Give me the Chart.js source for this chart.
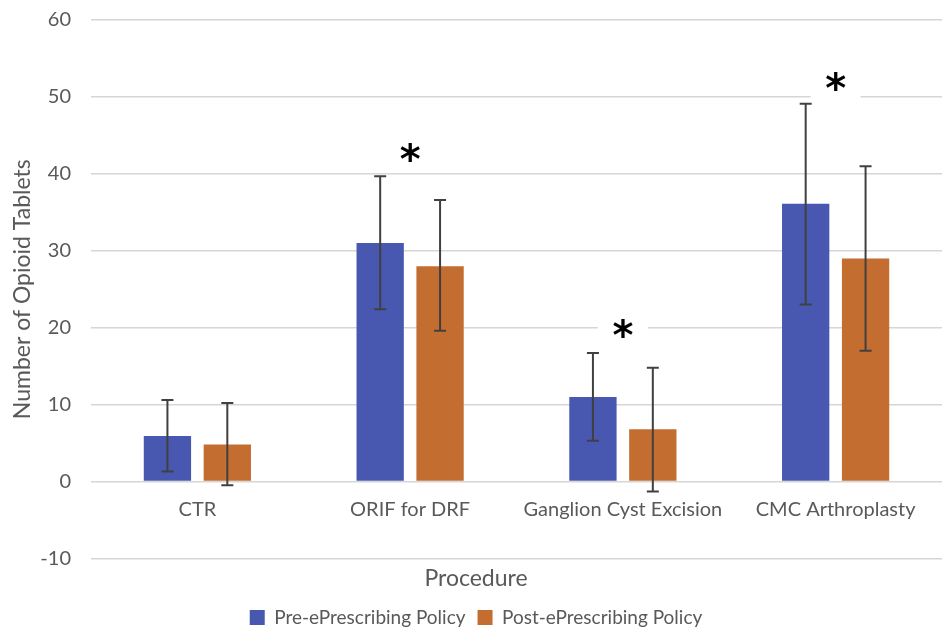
<!DOCTYPE html>
<html>
<head>
<meta charset="utf-8">
<script src="https://cdn.jsdelivr.net/npm/chart.js@4/dist/chart.umd.min.js"></script>
<style>
  html, body { margin: 0; padding: 0; background: #ffffff; }
  #wrap { width: 942px; height: 630px; }
</style>
</head>
<body>
<div id="wrap"><canvas id="chart" width="942" height="630"></canvas></div>
<script>
// procedures on the x axis
const procedures = ["CTR", "ORIF for DRF", "Ganglion Cyst Excision", "CMC Arthroplasty"];
const seriesNames = ["Pre-ePrescribing Policy", "Post-ePrescribing Policy"];

// mean tablets
const preValues = [5.9, 31.0, 11.0, 36.1];
const postValues = [4.8, 28.0, 6.8, 29.0];

// error bar ends
const preLow = [1.3, 22.4, 5.3, 23.0];
const preHigh = [10.6, 39.7, 16.7, 49.1];
const postLow = [-0.5, 19.6, -1.3, 17.0];
const postHigh = [10.2, 36.6, 14.8, 41.0];

// significance marks: category index and height
const starCategory = [1, 2, 3];
const starHeight = [42.8, 20.0, 52.1];

const yTicks = [-10, 0, 10, 20, 30, 40, 50, 60];

const blue = "#4858B1";
const orange = "#C46D31";
const textGrey = "#595959";

const errorBars = {
    id: "errorBars",
    afterDatasetsDraw(chart) {
        const ctx = chart.ctx;
        const y = chart.scales.y;
        const lows = [preLow, postLow];
        const highs = [preHigh, postHigh];
        ctx.save();
        ctx.strokeStyle = "#404040";
        ctx.lineWidth = 2;
        for (let d = 0; d < 2; d++) {
            const meta = chart.getDatasetMeta(d);
            meta.data.forEach((bar, i) => {
                const top = y.getPixelForValue(highs[d][i]);
                const bot = y.getPixelForValue(lows[d][i]);
                ctx.beginPath();
                ctx.moveTo(bar.x, top);
                ctx.lineTo(bar.x, bot);
                ctx.moveTo(bar.x - 6, top);
                ctx.lineTo(bar.x + 6, top);
                ctx.moveTo(bar.x - 6, bot);
                ctx.lineTo(bar.x + 6, bot);
                ctx.stroke();
            });
        }
        ctx.restore();
    }
};

const stars = {
    id: "stars",
    beforeDatasetsDraw(chart) {
        const ctx = chart.ctx;
        const x = chart.scales.x;
        const y = chart.scales.y;
        ctx.save();
        ctx.font = "bold 40px 'DejaVu Sans'";
        ctx.textAlign = "center";
        ctx.textBaseline = "alphabetic";
        const m = ctx.measureText("*");
        const shift = (m.actualBoundingBoxAscent - m.actualBoundingBoxDescent) / 2;
        starCategory.forEach((c, i) => {
            const px = x.getPixelForValue(c);
            const py = y.getPixelForValue(starHeight[i]);
            ctx.fillStyle = "#ffffff";
            ctx.fillRect(px - 25, py - 18, 50, 36);
            ctx.fillStyle = "#000000";
            ctx.fillText("*", px, py + shift);
        });
        ctx.restore();
    }
};

new Chart(document.getElementById("chart"), {
    type: "bar",
    data: {
        labels: procedures,
        datasets: [
            { label: seriesNames[0], data: preValues, backgroundColor: blue },
            { label: seriesNames[1], data: postValues, backgroundColor: orange }
        ]
    },
    options: {
        responsive: false,
        animation: false,
        layout: { padding: { top: 20, right: -10, left: 0, bottom: -7 } },
        datasets: {
            bar: { categoryPercentage: 0.563, barPercentage: 0.79 }
        },
        scales: {
            x: {
                position: { y: 0 },
                afterFit: (axis) => {
                    // labels sit on the zero line, so the axis takes no room
                    axis.height = 0;
                    axis.paddingLeft = 0;
                    axis.paddingRight = 0;
                },
                grid: { display: false },
                border: { display: false },
                ticks: {
                    color: textGrey,
                    font: { family: "Lato", size: 20 },
                    padding: 8,
                    maxRotation: 0
                }
            },
            y: {
                min: -10,
                max: 60,
                afterBuildTicks: (axis) => { axis.ticks = yTicks.map(v => ({ value: v })); },
                afterFit: (axis) => {
                    axis.width = 91;
                    axis.paddingTop = 0;
                    axis.paddingBottom = 0;
                },
                grid: { color: "#d6d6d6", lineWidth: 1.5, drawTicks: false },
                border: { display: false },
                ticks: {
                    color: textGrey,
                    font: { family: "Lato", size: 20 },
                    padding: 20
                },
                title: {
                    display: true,
                    text: "Number of Opioid Tablets",
                    color: textGrey,
                    font: { family: "Lato", size: 23 },
                    padding: { top: 9, bottom: 5 }
                }
            }
        },
        plugins: {
            tooltip: { enabled: false },
            title: {
                display: true,
                position: "bottom",
                weight: 500,
                text: "Procedure",
                color: textGrey,
                font: { family: "Lato", size: 23, weight: "normal" },
                padding: { top: 6, bottom: 4 }
            },
            legend: {
                position: "bottom",
                labels: {
                    color: textGrey,
                    font: { family: "Lato", size: 19 },
                    boxWidth: 15,
                    boxHeight: 15,
                    padding: 12
                }
            }
        }
    },
    plugins: [stars, errorBars]
});
</script>
</body>
</html>
